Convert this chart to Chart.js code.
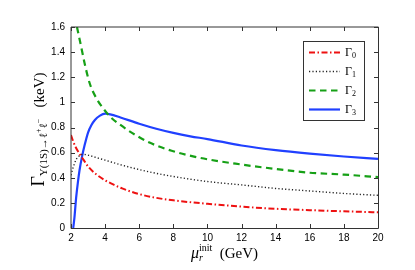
<!DOCTYPE html>
<html>
<head>
<meta charset="utf-8">
<script src="https://cdn.jsdelivr.net/npm/chart.js@4/dist/chart.umd.min.js"></script>
<style>
  html, body { margin: 0; padding: 0; background: #fff; }
  #wrap { width: 415px; height: 270px; position: relative; }
</style>
</head>
<body>
<div id="wrap"><canvas id="myChart" width="415" height="270"></canvas></div>
<script>
// values (x = mu_r^init in GeV, y = width in keV)
var gamma0X = [2.0, 2.1, 2.25, 2.5, 2.75, 3, 3.5, 4, 4.5, 5, 6, 7, 8, 10, 12, 14, 16, 18, 20];
var gamma0Y = [0.74, 0.70, 0.65, 0.59, 0.54, 0.49, 0.425, 0.38, 0.345, 0.315, 0.27, 0.24, 0.22, 0.193, 0.17, 0.153, 0.142, 0.133, 0.125];

var gamma1X = [2.0, 2.1, 2.2, 2.3, 2.45, 2.6, 2.8, 3, 3.5, 4, 5, 6, 7, 8, 10, 12, 14, 16, 18, 20];
var gamma1Y = [0.42, 0.47, 0.51, 0.545, 0.57, 0.585, 0.585, 0.58, 0.56, 0.54, 0.5, 0.465, 0.435, 0.41, 0.37, 0.343, 0.315, 0.295, 0.275, 0.26];

var gamma2X = [2.35, 2.6, 2.8, 3.1, 3.5, 3.9, 4.3, 4.9, 5.6, 6.6, 7.9, 9.5, 12, 14, 16, 18, 20];
var gamma2Y = [1.6, 1.44, 1.31, 1.15, 1.03, 0.95, 0.885, 0.82, 0.755, 0.68, 0.615, 0.56, 0.505, 0.47, 0.44, 0.425, 0.405];

var gamma3X = [2.13, 2.2, 2.3, 2.4, 2.5, 2.65, 2.8, 3, 3.2, 3.4, 3.7, 4, 4.3, 4.9, 6, 7, 8, 9, 10, 12, 14, 16, 18, 20];
var gamma3Y = [0, 0.08, 0.24, 0.36, 0.46, 0.57, 0.66, 0.76, 0.82, 0.86, 0.895, 0.91, 0.905, 0.88, 0.83, 0.79, 0.757, 0.73, 0.708, 0.657, 0.62, 0.592, 0.569, 0.55];

var seriesSubs = ["0", "1", "2", "3"];
var xTicks = [2, 4, 6, 8, 10, 12, 14, 16, 18, 20];
var yTicks = [0, 0.2, 0.4, 0.6, 0.8, 1, 1.2, 1.4, 1.6];

function toPoints(xs, ys) {
  return xs.map(function (x, i) { return { x: x, y: ys[i] }; });
}

var serif = "'Liberation Serif', 'DejaVu Serif', serif";

// draws the box, inward ticks, axis titles and the legend
var decorPlugin = {
  id: "decor",
  afterDatasetsDraw: function (chart) {
    var ctx = chart.ctx;
    var a = chart.chartArea;
    var xs = chart.scales.x, ys = chart.scales.y;
    ctx.save();

    // frame
    ctx.strokeStyle = "#333";
    ctx.lineWidth = 1;
    ctx.beginPath();
    ctx.moveTo(a.left, a.bottom + 0.5);
    ctx.lineTo(a.left, a.top);
    ctx.lineTo(a.right + 0.5, a.top);
    ctx.stroke();
    ctx.beginPath();
    ctx.moveTo(a.right + 0.5, a.top);
    ctx.lineTo(a.right + 0.5, a.bottom + 0.5);
    ctx.lineTo(a.left, a.bottom + 0.5);
    ctx.stroke();

    // inward ticks
    ctx.beginPath();
    xTicks.forEach(function (v) {
      var px = Math.round(xs.getPixelForValue(v)) + 0.5;
      ctx.moveTo(px, a.bottom); ctx.lineTo(px, a.bottom - 4);
      ctx.moveTo(px, a.top); ctx.lineTo(px, a.top + 4);
    });
    yTicks.forEach(function (v) {
      var py = Math.round(ys.getPixelForValue(v)) + 0.5;
      ctx.moveTo(a.left, py); ctx.lineTo(a.left + 4, py);
      ctx.moveTo(a.right, py); ctx.lineTo(a.right - 4, py);
    });
    ctx.stroke();

    ctx.fillStyle = "#000";
    ctx.textBaseline = "alphabetic";
    ctx.textAlign = "left";

    // x title: mu_r^init (GeV)
    var cx = (a.left + a.right) / 2;
    var base = 258;
    var parts = [
      { t: "\u03bc", f: "italic 16px " + serif, dy: 0 },
      { t: "r", f: "italic 10px " + serif, dy: 3 },
      { t: "init", f: "10px " + serif, dy: -7, back: true },
      { t: "  (GeV)", f: "15px " + serif, dy: 0 }
    ];
    drawParts(ctx, parts, cx, base);

    // y title, rotated
    ctx.save();
    ctx.translate(44, (a.top + a.bottom) / 2 + 2);
    ctx.rotate(-Math.PI / 2);
    var yparts = [
      { t: "\u0393", f: "18px " + serif, dy: 0 },
      { t: "\u03a5(1S)\u2192\u2113", f: "11px " + serif, dy: 3 },
      { t: "+", f: "8px " + serif, dy: -3 },
      { t: "\u2113", f: "11px " + serif, dy: 3 },
      { t: "\u2212", f: "8px " + serif, dy: -3 },
      { t: "   (keV)", f: "15px " + serif, dy: 0 }
    ];
    drawParts(ctx, yparts, 0, 0);
    ctx.restore();

    // legend box
    var bx = a.right - 75, by = a.top + 14, bw = 61, bh = 79;
    ctx.fillStyle = "#fff";
    ctx.fillRect(bx, by, bw, bh);
    ctx.strokeStyle = "#333";
    ctx.strokeRect(bx + 0.5, by + 0.5, bw, bh);
    chart.data.datasets.forEach(function (ds, i) {
      var ry = by + 11 + i * 19;
      ctx.save();
      ctx.strokeStyle = ds.borderColor;
      ctx.lineWidth = ds.borderWidth;
      ctx.setLineDash(ds.borderDash || []);
      ctx.beginPath();
      ctx.moveTo(bx + 6, ry + 0.5);
      ctx.lineTo(bx + 37, ry + 0.5);
      ctx.stroke();
      ctx.restore();
      ctx.fillStyle = "#000";
      ctx.font = "12px " + serif;
      ctx.fillText("\u0393", bx + 42, ry + 4);
      var w = ctx.measureText("\u0393").width;
      ctx.font = "8px " + serif;
      ctx.fillText(seriesSubs[i], bx + 42 + w, ry + 6);
    });

    ctx.restore();
  }
};

function drawParts(ctx, parts, cx, base) {
  var total = 0;
  parts.forEach(function (p) {
    ctx.font = p.f;
    p.w = ctx.measureText(p.t).width;
  });
  // superscript sitting over the subscript does not add width
  parts.forEach(function (p, i) {
    if (p.back) { total += Math.max(0, p.w - parts[i - 1].w); } else { total += p.w; }
  });
  var x = cx - total / 2;
  parts.forEach(function (p, i) {
    ctx.font = p.f;
    var px = x;
    if (p.back) { px = x - parts[i - 1].w; }
    ctx.fillText(p.t, px, base + p.dy);
    if (p.back) { x = Math.max(x, px + p.w); } else { x = px + p.w; }
  });
}

var ctx = document.getElementById("myChart").getContext("2d");
var myChart = new Chart(ctx, {
  type: "line",
  data: {
    datasets: [
      { label: "Gamma0", data: toPoints(gamma0X, gamma0Y), borderColor: "#ee1111", borderWidth: 2, borderDash: [6, 2.5, 1.5, 2.5] },
      { label: "Gamma1", data: toPoints(gamma1X, gamma1Y), borderColor: "#222222", borderWidth: 1.4, borderDash: [1.2, 2.2] },
      { label: "Gamma2", data: toPoints(gamma2X, gamma2Y), borderColor: "#16a016", borderWidth: 2.2, borderDash: [6.5, 4.5] },
      { label: "Gamma3", data: toPoints(gamma3X, gamma3Y), borderColor: "#2040ff", borderWidth: 2.2 }
    ]
  },
  options: {
    responsive: false,
    animation: false,
    layout: { padding: { left: 0, top: 27, right: 37, bottom: 0 } },
    elements: {
      point: { radius: 0 },
      line: { cubicInterpolationMode: "monotone", fill: false }
    },
    plugins: {
      legend: { display: false },
      tooltip: { enabled: false }
    },
    scales: {
      x: {
        type: "linear",
        min: 2, max: 20,
        afterFit: function (s) { s.height = 42; },
        grid: { display: false, drawTicks: false },
        border: { display: false },
        afterBuildTicks: function (s) { s.ticks = xTicks.map(function (v) { return { value: v }; }); },
        ticks: { color: "#000", padding: 4, font: { family: "'Liberation Sans', Arial, sans-serif", size: 10 } }
      },
      y: {
        type: "linear",
        min: 0, max: 1.6,
        afterFit: function (s) { s.width = 71; },
        grid: { display: false, drawTicks: false },
        border: { display: false },
        afterBuildTicks: function (s) { s.ticks = yTicks.map(function (v) { return { value: v }; }); },
        ticks: {
          color: "#000", padding: 6,
          font: { family: "'Liberation Sans', Arial, sans-serif", size: 10 },
          callback: function (v) { return String(Math.round(v * 10) / 10); }
        }
      }
    }
  },
  plugins: [decorPlugin]
});
</script>
</body>
</html>
